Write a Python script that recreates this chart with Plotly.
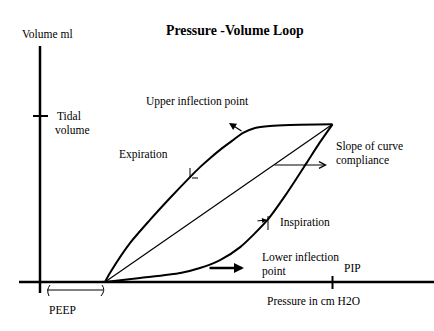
import plotly.graph_objects as go

# ---- data (pressure in cm H2O, volume in ml; schematic values)
peep = 5.0
pip = 22.5
tidal_volume = 500
exp_pressure = [5.0, 5.38, 6.92, 8.46, 10.0, 11.54, 12.31, 13.08, 13.85, 14.77, 15.62, 16.54, 17.69, 19.23, 22.5]
exp_volume   = [0,   27,   117,  187,  253,  316,   346,   373,   398,   425,   449,   464,   470,   473,   475]
insp_pressure = [5.0, 7.7, 10.8, 12.3, 13.85, 15.4, 17.5, 19.0, 20.5, 21.5, 22.5]
insp_volume   = [0,   12,  27,   42,   66,    105,  187,  268,  358,  419,  475]
compl_pressure = [5.0, 22.5]
compl_volume = [0, 475]

# ---- pixel calibration of the drawing
W, H = 434, 331
X0PX, Y0PX = 40, 282          # pixel of origin
PX_X, PX_Y = 13.0, 0.332      # pixels per cm H2O, per ml
xr = [(0 - X0PX) / PX_X, (W - X0PX) / PX_X]
yr = [(Y0PX - H) / PX_Y, Y0PX / PX_Y]

def ux(px):
    return (px - X0PX) / PX_X

def uy(py):
    return (Y0PX - py) / PX_Y

FONT = "Liberation Serif, Times New Roman, DejaVu Serif, serif"

fig = go.Figure()
black = "black"
fig.add_trace(go.Scatter(x=exp_pressure, y=exp_volume, mode="lines",
                         line=dict(color=black, width=2, shape="spline", smoothing=0.7), hoverinfo="skip"))
fig.add_trace(go.Scatter(x=insp_pressure, y=insp_volume, mode="lines",
                         line=dict(color=black, width=2, shape="spline", smoothing=0.7), hoverinfo="skip"))
fig.add_trace(go.Scatter(x=compl_pressure, y=compl_volume, mode="lines",
                         line=dict(color=black, width=1.2), hoverinfo="skip"))

shapes = []
# axes
shapes.append(dict(type="line", x0=0, x1=0, y0=uy(46), y1=uy(293), line=dict(color=black, width=2.5)))
shapes.append(dict(type="line", x0=ux(19), x1=ux(434), y0=0, y1=0, line=dict(color=black, width=2.5)))
# tidal tick
shapes.append(dict(type="line", x0=ux(33), x1=ux(48), y0=tidal_volume, y1=tidal_volume, line=dict(color=black, width=2)))
# PIP tick
shapes.append(dict(type="line", x0=pip, x1=pip, y0=uy(276), y1=uy(289), line=dict(color=black, width=2)))
# PEEP bracket
shapes.append(dict(type="line", x0=ux(47), x1=ux(103), y0=uy(290), y1=uy(290), line=dict(color=black, width=1)))
shapes.append(dict(type="path", path=f"M {ux(50)},{uy(285)} Q {ux(46)},{uy(290)} {ux(49)},{uy(296)}",
                   line=dict(color=black, width=1)))
shapes.append(dict(type="path", path=f"M {ux(102)},{uy(285)} Q {ux(106)},{uy(290)} {ux(101)},{uy(296)}",
                   line=dict(color=black, width=1)))
# small direction marks
shapes.append(dict(type="line", x0=ux(190), x1=ux(190), y0=uy(168), y1=uy(178), line=dict(color=black, width=1)))
shapes.append(dict(type="line", x0=ux(192), x1=ux(198), y0=uy(178), y1=uy(178), line=dict(color=black, width=1)))
shapes.append(dict(type="line", x0=ux(268), x1=ux(268), y0=uy(216), y1=uy(230), line=dict(color=black, width=1)))

annotations = []
def arrow(x, y, ax, ay, width=1, head=1, size=1):
    annotations.append(dict(x=x, y=y, ax=ax, ay=ay, xref="x", yref="y", axref="x", ayref="y",
                            text="", showarrow=True, arrowhead=head, arrowwidth=width,
                            arrowsize=size, arrowcolor=black))

arrow(ux(229), uy(123), ux(243), uy(132), width=1.2, head=2, size=1.2)      # upper inflection
arrow(ux(244), uy(268), ux(208), uy(268), width=2.5, head=2, size=0.8)      # lower inflection
arrow(ux(327), uy(165), ux(273), uy(165), width=1, head=5, size=1.3)        # slope / compliance
arrow(ux(267), uy(220), ux(256), uy(221), width=1, head=2, size=1)          # inspiration mark

def label(text, px, py, size=11.5, bold=False, anchor="left"):
    if bold:
        text = f"<b>{text}</b>"
    annotations.append(dict(x=px / W, y=1 - py / H, xref="paper", yref="paper", text=text,
                            showarrow=False, xanchor=anchor, yanchor="middle",
                            font=dict(family=FONT, size=size, color=black)))

label("Pressure -Volume Loop", 235, 30, size=13.8, bold=True, anchor="center")
label("Volume ml", 20, 34)
label("Upper inflection point", 144, 101)
label("Tidal", 55, 116)
label("volume", 53, 130)
label("Expiration", 117, 154)
label("Slope of curve", 334, 146)
label("compliance", 334, 160)
label("Inspiration", 278, 222)
label("Lower inflection", 260, 257)
label("point", 260, 271)
label("PIP", 342, 268)
label("Pressure in cm H2O", 265, 301)
label("PEEP", 47, 310)

fig.update_layout(
    width=W, height=H, margin=dict(l=0, r=0, t=0, b=0),
    paper_bgcolor="white", plot_bgcolor="white", showlegend=False,
    font=dict(family=FONT),
    xaxis=dict(range=xr, visible=False, fixedrange=True),
    yaxis=dict(range=yr, visible=False, fixedrange=True),
    shapes=shapes, annotations=annotations,
)
fig.write_html("out.html")
